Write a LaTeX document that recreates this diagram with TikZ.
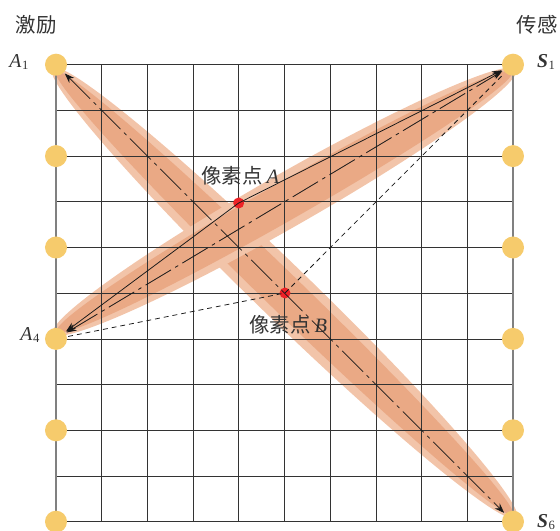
\documentclass[tikz,border=0pt]{standalone}
\usepackage{fontspec}
\usetikzlibrary{shapes.geometric,arrows.meta}
\newfontfamily\cjk{Noto Sans CJK SC}
\newfontfamily\latin{Liberation Serif}
\newcommand{\padname}[2]{{\latin\itshape #1}\hspace{0.5pt}\raisebox{-2pt}{\latin\fontsize{9}{10}\selectfont #2}}
\newcommand{\pixname}[1]{\hspace{3pt}{\latin\itshape #1}}
\definecolor{bandlight}{HTML}{F2C4A9}
\definecolor{banddark}{HTML}{EAA985}
\definecolor{padyellow}{HTML}{F6CB6C}
\definecolor{pixelred}{HTML}{EE2227}
\tikzset{
  band/.style={ellipse, inner sep=0pt, fill=#1},
  pad/.style={circle, fill=padyellow, minimum size=0.55cm, inner sep=0pt, outer sep=1pt},
  pixel/.style={circle, fill=pixelred, minimum size=0.275cm, inner sep=0pt, outer sep=0pt},
  title/.style={font=\cjk\fontsize{14.5}{16}\selectfont, text=black!80, inner sep=0pt},
  padlabel/.style={font=\fontsize{14}{16}\selectfont, text=black!80, inner sep=0pt},
  gridline/.style={line width=0.5pt, draw=black!80},
  path line/.style={line width=0.55pt, draw=black!90},
  chain/.style={path line, dash pattern=on 21pt off 3.5pt on 2.5pt off 3.5pt},
  both tips/.style={{Stealth[length=7pt,width=5pt]}-{Stealth[length=7pt,width=5pt]}},
}
\begin{document}
\begin{tikzpicture}[x=0.025cm,y=-0.025cm]
  \clip (0,0) rectangle (560,531);
  \node [band=bandlight, minimum width=16.16cm, minimum height=1.36cm, rotate=-44.1] (d1) at (284.5,293.2) {};
  \node [band=banddark, minimum width=15.9cm, minimum height=0.93cm, rotate=-44.1] (d2) at (284.5,293.2) {};
  \node [band=bandlight, minimum width=13.32cm, minimum height=1.33cm, rotate=29.7] (e1) at (284.5,201.7) {};
  \node [band=banddark, minimum width=13.1cm, minimum height=0.95cm, rotate=29.7] (e2) at (284.5,201.7) {};
  \foreach \i in {0,...,10} {
    \draw [gridline] (56,64.7+45.7*\i) -- (513,64.7+45.7*\i);
    \draw [gridline] (56+45.7*\i,64.7) -- (56+45.7*\i,521.7);
  }
  \draw [line width=0.8pt, draw=black!50] (56,64.7) -- (56,521.7);
  \draw [line width=0.8pt, draw=black!50] (513,64.7) -- (513,521.7);
  \foreach \i in {1,...,6} {
    \node [pad] (A\i) at (56,64.7+91.4*\i-91.4) {};
    \node [pad] (S\i) at (513,64.7+91.4*\i-91.4) {};
  }
  \node [pixel] (pa) at (238.7,203) {};
  \node [pixel] (pb) at (285,293) {};
  \node [title] (exc) at (36,25) {激励};
  \node [title] (sen) at (537,25) {传感};
  \node [padlabel] (la1) at (19,62) {\padname{A}{1}};
  \node [padlabel] (la4) at (30,335) {\padname{A}{4}};
  \node [padlabel] (ls1) at (546,62) {\padname{\bfseries S}{1}};
  \node [padlabel] (ls6) at (546,522) {\padname{\bfseries S}{6}};
  \node [title, anchor=west] (ta) at (201,176) {像素点\pixname{A}};
  \node [title, anchor=west] (tb) at (249,325) {像素点\pixname{B}};
  \draw [chain, both tips] (A1) -- (S6);
  \draw [chain, both tips] (A4) -- (S1);
  \draw [path line, both tips] (A4) -- (pa.center) -- (S1);
  \draw [path line, dash pattern=on 3.5pt off 2.8pt] (A4) -- (pb.center) -- (S1);
\end{tikzpicture}
\end{document}
